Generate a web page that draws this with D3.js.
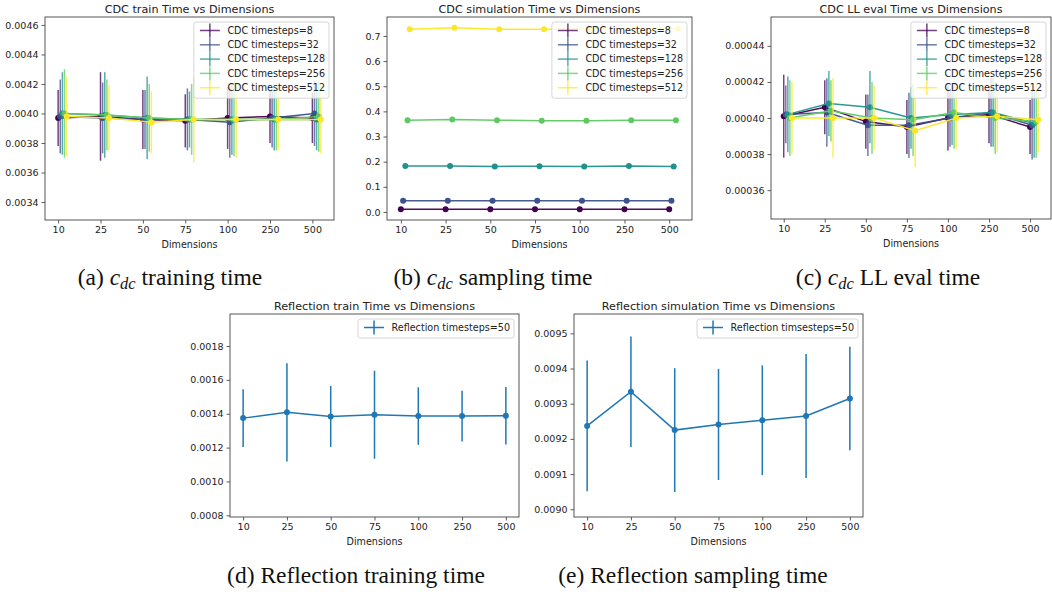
<!DOCTYPE html>
<html>
<head>
<meta charset="utf-8">
<script src="https://cdn.jsdelivr.net/npm/d3@7"></script>
<style>
  body { margin: 0; background: #fff; }
  text { font-family: "DejaVu Sans", sans-serif; fill: #222; }
  text.cap { font-family: "Liberation Serif", "Times New Roman", serif; fill: #111; }
</style>
</head>
<body>
<script>
// ---- data ----
var dims = ["10", "25", "50", "75", "100", "250", "500"];
var steps = [8, 32, 128, 256, 512];
var viridis = ["#440154", "#3b528b", "#21918c", "#5ec962", "#fde725"];

// CDC train time (mean / half error bar), one row per timesteps value
var trainMean = [
  [0.00397, 0.00398, 0.00396, 0.00395, 0.00397, 0.00398, 0.00397],
  [0.00398, 0.00397, 0.00396, 0.00396, 0.00394, 0.00397, 0.00400],
  [0.00400, 0.00399, 0.00397, 0.00396, 0.00396, 0.00396, 0.00396],
  [0.00400, 0.00399, 0.00397, 0.00396, 0.00396, 0.00396, 0.00398],
  [0.00398, 0.00397, 0.00394, 0.00396, 0.00396, 0.00396, 0.00396]
];
var trainErr = [
  [0.00019, 0.00030, 0.00020, 0.00018, 0.00021, 0.00018, 0.00017],
  [0.00025, 0.00024, 0.00020, 0.00021, 0.00024, 0.00020, 0.00022],
  [0.00028, 0.00029, 0.00028, 0.00019, 0.00024, 0.00021, 0.00021],
  [0.00030, 0.00024, 0.00023, 0.00024, 0.00025, 0.00021, 0.00024],
  [0.00027, 0.00022, 0.00021, 0.00029, 0.00026, 0.00021, 0.00023]
];

// CDC simulation time
var simMean = [
  [0.011, 0.011, 0.011, 0.011, 0.011, 0.011, 0.011],
  [0.045, 0.045, 0.045, 0.045, 0.045, 0.045, 0.045],
  [0.183, 0.183, 0.181, 0.182, 0.181, 0.183, 0.181],
  [0.365, 0.368, 0.365, 0.363, 0.363, 0.365, 0.365],
  [0.727, 0.733, 0.727, 0.727, 0.729, 0.731, 0.729]
];
var simErr = [
  [0.001, 0.001, 0.001, 0.001, 0.001, 0.001, 0.001],
  [0.001, 0.001, 0.001, 0.001, 0.001, 0.001, 0.001],
  [0.002, 0.002, 0.002, 0.002, 0.002, 0.002, 0.002],
  [0.003, 0.003, 0.003, 0.003, 0.003, 0.003, 0.003],
  [0.004, 0.004, 0.004, 0.004, 0.004, 0.004, 0.004]
];

// CDC LL eval time
var llMean = [
  [0.000401, 0.000406, 0.000398, 0.000395, 0.000400, 0.000402, 0.000395],
  [0.000402, 0.000403, 0.000396, 0.000396, 0.000400, 0.000403, 0.000396],
  [0.000402, 0.000408, 0.000406, 0.000400, 0.000402, 0.000403, 0.000397],
  [0.000400, 0.000404, 0.000400, 0.000399, 0.000403, 0.000400, 0.000398],
  [0.000400, 0.000400, 0.000400, 0.000393, 0.000400, 0.000401, 0.000399]
];
var llErr = [
  [0.000023, 0.000015, 0.000015, 0.000015, 0.000018, 0.000016, 0.000015],
  [0.000016, 0.000019, 0.000017, 0.000018, 0.000016, 0.000019, 0.000019],
  [0.000021, 0.000018, 0.000020, 0.000017, 0.000017, 0.000019, 0.000019],
  [0.000021, 0.000017, 0.000020, 0.000020, 0.000020, 0.000020, 0.000020],
  [0.000020, 0.000022, 0.000018, 0.000020, 0.000017, 0.000020, 0.000018]
];

// Reflection
var refTrainMean = [0.001374, 0.001408, 0.001384, 0.001394, 0.001386, 0.001386, 0.001388];
var refTrainErr = [0.00017, 0.00029, 0.00018, 0.00026, 0.00017, 0.00015, 0.00017];
var refSimMean = [0.009237, 0.009334, 0.009225, 0.009241, 0.009253, 0.009265, 0.009315];
var refSimErr = [0.000186, 0.000157, 0.000176, 0.000158, 0.000156, 0.000176, 0.000147];

// tick values
var trainTicks = [0.0034, 0.0036, 0.0038, 0.0040, 0.0042, 0.0044, 0.0046];
var simTicks = [0.0, 0.1, 0.2, 0.3, 0.4, 0.5, 0.6, 0.7];
var llTicks = [0.00036, 0.00038, 0.00040, 0.00042, 0.00044];
var refTrainTicks = [0.0008, 0.0010, 0.0012, 0.0014, 0.0016, 0.0018];
var refSimTicks = [0.0090, 0.0091, 0.0092, 0.0093, 0.0094, 0.0095];

var svg = d3.select("body").append("svg")
  .attr("width", 1052)
  .attr("height", 592);

svg.append("rect").attr("width", 1052).attr("height", 592).attr("fill", "#fff");

function cdcSeries(mean, err) {
  return steps.map(function (s, j) {
    return { name: "CDC timesteps=" + s, color: viridis[j], mean: mean[j], err: err[j] };
  });
}

var clipId = 0;
function panel(c) {
  var g = svg.append("g");
  var x = d3.scaleLinear().domain(c.xDomain).range([c.left, c.right]);
  var y = d3.scaleLinear().domain(c.yDomain).range([c.bottom, c.top]);

  var id = "clip" + (clipId++);
  g.append("clipPath").attr("id", id).append("rect")
    .attr("x", c.left).attr("y", c.top)
    .attr("width", c.right - c.left).attr("height", c.bottom - c.top);
  var plot = g.append("g").attr("clip-path", "url(#" + id + ")");

  c.series.forEach(function (s, j) {
    var pts = s.mean.map(function (m, i) { return { x: i + j * c.shift, m: m, e: s.err[i] }; });
    plot.append("g").selectAll("line").data(pts).join("line")
      .attr("x1", function (d) { return x(d.x); })
      .attr("x2", function (d) { return x(d.x); })
      .attr("y1", function (d) { return y(d.m - d.e); })
      .attr("y2", function (d) { return y(d.m + d.e); })
      .attr("stroke", s.color)
      .attr("stroke-width", 1.5)
      .attr("stroke-opacity", c.barAlpha);
    plot.append("path").datum(pts)
      .attr("d", d3.line().x(function (d) { return x(d.x); }).y(function (d) { return y(d.m); }))
      .attr("fill", "none")
      .attr("stroke", s.color)
      .attr("stroke-width", 1.5)
      .attr("stroke-opacity", c.lineAlpha);
    plot.append("g").selectAll("circle").data(pts).join("circle")
      .attr("cx", function (d) { return x(d.x); })
      .attr("cy", function (d) { return y(d.m); })
      .attr("r", 3)
      .attr("fill", s.color);
  });

  // axes
  var xa = g.append("g").attr("transform", "translate(0," + c.bottom + ")")
    .call(d3.axisBottom(x).tickValues(d3.range(dims.length))
      .tickFormat(function (i) { return dims[i]; }).tickSize(3.5).tickPadding(3));
  var ya = g.append("g").attr("transform", "translate(" + c.left + ",0)")
    .call(d3.axisLeft(y).tickValues(c.yTicks).tickFormat(d3.format(c.fmt)).tickSize(3.5).tickPadding(3));
  [xa, ya].forEach(function (a) {
    a.select(".domain").remove();
    a.selectAll(".tick line").attr("stroke", "#333").attr("stroke-width", 0.8);
    a.selectAll(".tick text").attr("font-size", 9.5).attr("fill", "#222")
      .style("font-family", "DejaVu Sans, sans-serif");
  });

  g.append("rect")
    .attr("x", c.left).attr("y", c.top)
    .attr("width", c.right - c.left).attr("height", c.bottom - c.top)
    .attr("fill", "none").attr("stroke", "#444").attr("stroke-width", 0.9);

  g.append("text")
    .attr("x", (c.left + c.right) / 2).attr("y", c.top - 4.5)
    .attr("text-anchor", "middle").attr("font-size", 11.2)
    .text(c.title);
  g.append("text")
    .attr("x", (c.left + c.right) / 2).attr("y", c.bottom + 27.5)
    .attr("text-anchor", "middle").attr("font-size", 9.6)
    .text("Dimensions");

  // legend
  var lg = g.append("g");
  var box = lg.append("rect");
  var rowH = 14.3;
  var items = lg.selectAll("g.item").data(c.series).join("g")
    .attr("class", "item")
    .attr("transform", function (d, i) { return "translate(0," + (i * rowH) + ")"; });
  items.append("line").attr("x1", 0).attr("x2", 20).attr("y1", 0).attr("y2", 0)
    .attr("stroke", function (d) { return d.color; }).attr("stroke-width", 1.5)
    .attr("stroke-opacity", c.barAlpha);
  items.append("line").attr("x1", 10).attr("x2", 10).attr("y1", -7).attr("y2", 7)
    .attr("stroke", function (d) { return d.color; }).attr("stroke-width", 1.5)
    .attr("stroke-opacity", c.barAlpha);
  items.append("text").attr("x", 27.5).attr("y", 0).attr("dy", "0.35em")
    .attr("font-size", 9.6).text(function (d) { return d.name; });
  var w = 0;
  items.selectAll("text").each(function () { w = Math.max(w, this.getComputedTextLength()); });
  var bw = 27.5 + w + 10, bh = (c.series.length - 1) * rowH + 19;
  box.attr("x", -6).attr("y", -8.5).attr("width", bw).attr("height", bh)
    .attr("rx", 2.5).attr("fill", "#fff").attr("fill-opacity", 0.8)
    .attr("stroke", "#ccc").attr("stroke-width", 0.8);
  lg.attr("transform", "translate(" + (c.right - 5 - bw + 6) + "," + (c.top + 13.5) + ")");
}

panel({
  left: 45, right: 334, top: 17, bottom: 220,
  xDomain: [-0.31, 6.51], yDomain: [0.003278, 0.004654],
  yTicks: trainTicks, fmt: ".4f", shift: 0.05, barAlpha: 0.75, lineAlpha: 0.95,
  title: "CDC train Time vs Dimensions",
  series: cdcSeries(trainMean, trainErr)
});
panel({
  left: 387, right: 692, top: 17, bottom: 220,
  xDomain: [-0.31, 6.51], yDomain: [-0.032, 0.7754],
  yTicks: simTicks, fmt: ".1f", shift: 0.05, barAlpha: 0.75, lineAlpha: 0.95,
  title: "CDC simulation Time vs Dimensions",
  series: cdcSeries(simMean, simErr)
});
panel({
  left: 771, right: 1051, top: 17, bottom: 219,
  xDomain: [-0.31, 6.51], yDomain: [0.000344, 0.000456],
  yTicks: llTicks, fmt: ".5f", shift: 0.05, barAlpha: 0.75, lineAlpha: 0.95,
  title: "CDC LL eval Time vs Dimensions",
  series: cdcSeries(llMean, llErr)
});
panel({
  left: 230, right: 519, top: 314, bottom: 517,
  xDomain: [-0.3, 6.3], yDomain: [0.00079, 0.001989],
  yTicks: refTrainTicks, fmt: ".4f", shift: 0, barAlpha: 1, lineAlpha: 1,
  title: "Reflection train Time vs Dimensions",
  series: [{ name: "Reflection timesteps=50", color: "#1f77b4", mean: refTrainMean, err: refTrainErr }]
});
panel({
  left: 574, right: 863, top: 314, bottom: 517,
  xDomain: [-0.3, 6.3], yDomain: [0.008978, 0.009555],
  yTicks: refSimTicks, fmt: ".4f", shift: 0, barAlpha: 1, lineAlpha: 1,
  title: "Reflection simulation Time vs Dimensions",
  series: [{ name: "Reflection timsesteps=50", color: "#1f77b4", mean: refSimMean, err: refSimErr }]
});

// captions
var captions = [
  { x: 170, y: 285, pre: "(a) ", math: true, post: " training time" },
  { x: 493, y: 285, pre: "(b) ", math: true, post: " sampling time" },
  { x: 888, y: 285, pre: "(c) ", math: true, post: " LL eval time" },
  { x: 356, y: 583, pre: "(d) Reflection training time", math: false, post: "" },
  { x: 693, y: 583, pre: "(e) Reflection sampling time", math: false, post: "" }
];
captions.forEach(function (c) {
  var t = svg.append("text").attr("class", "cap")
    .attr("x", c.x).attr("y", c.y).attr("text-anchor", "middle")
    .attr("font-size", 23.5);
  t.append("tspan").text(c.pre);
  if (c.math) {
    t.append("tspan").attr("font-style", "italic").text("c");
    t.append("tspan").attr("font-style", "italic").attr("font-size", 16.5).attr("dy", 4).text("dc");
    t.append("tspan").attr("dy", -4).text(c.post);
  }
});
</script>
</body>
</html>
